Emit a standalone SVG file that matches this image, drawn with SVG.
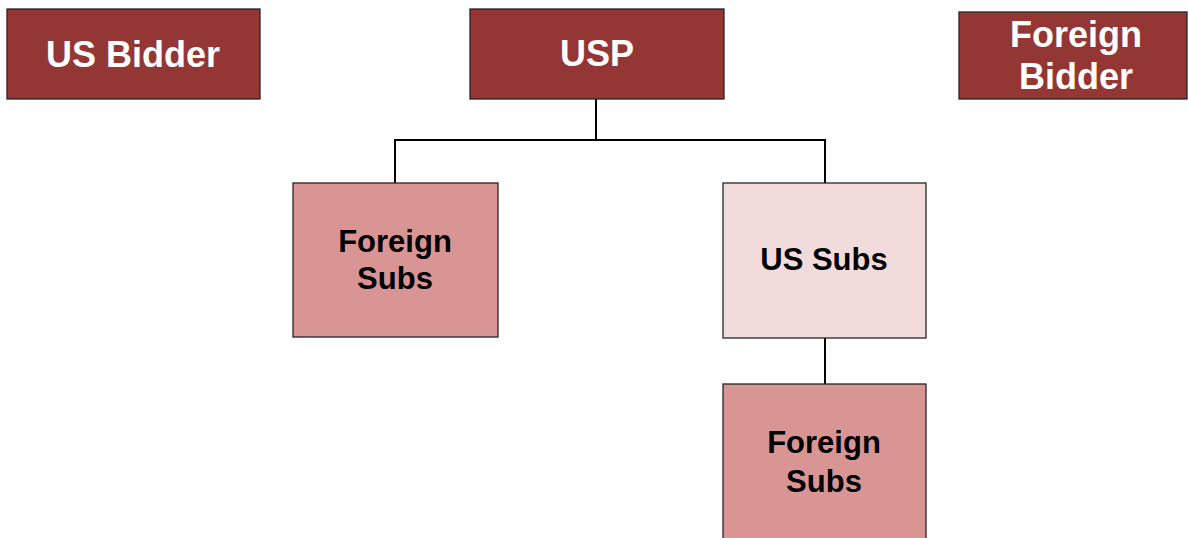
<svg xmlns="http://www.w3.org/2000/svg" width="1188" height="538" viewBox="0 0 1188 538">
<style>
.box{stroke:#262626;stroke-width:1.3}
.dark{fill:#943634}
.mid{fill:#D99594}
.light{fill:#F2DCDB}
.t{font-family:"Liberation Sans",Arial,sans-serif;font-weight:bold;text-anchor:middle}
.tw{fill:#ffffff;font-size:36px}
.tb{fill:#000000;font-size:31px}
.conn{stroke:#000;stroke-width:2;fill:none}
</style>
<rect width="1188" height="538" fill="#ffffff"/>
<g id="connectors">
<polyline class="conn" points="596,99 596,140"/>
<polyline class="conn" points="395,183 395,140 825,140 825,183"/>
<polyline class="conn" points="825,338 825,384"/>
</g>
<g id="us-bidder">
<rect class="box dark" x="7" y="9" width="253" height="90"/>
<text class="t tw" x="133" y="67">US Bidder</text>
</g>
<g id="usp">
<rect class="box dark" x="470" y="9" width="254" height="90"/>
<text class="t tw" x="597" y="66">USP</text>
</g>
<g id="foreign-bidder">
<rect class="box dark" x="959" y="12" width="228" height="87"/>
<text class="t tw" x="1076" y="47">Foreign</text>
<text class="t tw" x="1076" y="89">Bidder</text>
</g>
<g id="foreign-subs-1">
<rect class="box mid" x="293" y="183" width="205" height="154"/>
<text class="t tb" x="395" y="252">Foreign</text>
<text class="t tb" x="395" y="289">Subs</text>
</g>
<g id="us-subs">
<rect class="box light" x="723" y="183" width="203" height="155"/>
<text class="t tb" x="824" y="270">US Subs</text>
</g>
<g id="foreign-subs-2">
<rect class="box mid" x="723" y="384" width="203" height="170"/>
<text class="t tb" x="824" y="453">Foreign</text>
<text class="t tb" x="824" y="492">Subs</text>
</g>
</svg>
